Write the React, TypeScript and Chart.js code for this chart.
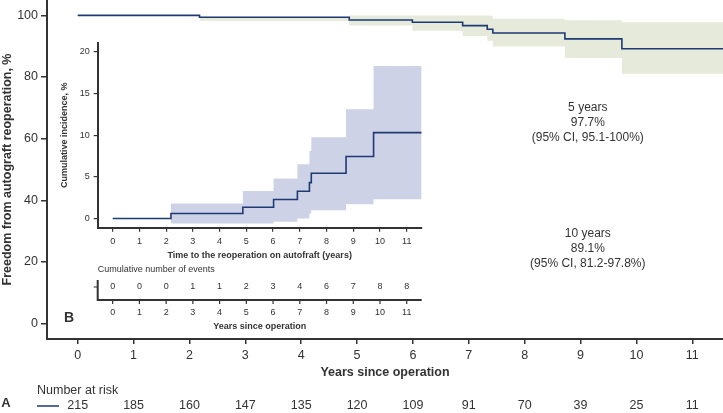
import React, { useEffect, useRef } from "react";
import { Chart, registerables } from "chart.js";

Chart.register(...registerables);

const FONT = "'Liberation Sans', Arial, Helvetica, sans-serif";
const INK = "#333333";
const LINE = "#1e3a74";

// ---- Panel A: freedom from autograft reoperation ----
const xTicks = [0, 1, 2, 3, 4, 5, 6, 7, 8, 9, 10, 11];
const mainYTicks = [0, 20, 40, 60, 80, 100];
const survTimes = [0, 2.18, 4.86, 5.99, 6.89, 7.33, 7.43, 8.72, 9.74, 11.55];
const survValues = [100, 99.4, 98.5, 97.8, 96.7, 95.5, 94.3, 92.4, 89.2, 89.2];
const survCiTimes = [2.18, 4.86, 5.99, 6.89, 7.33, 7.43, 8.72, 9.74, 11.55];
const survCiUpper = [99.6, 100, 100, 100, 99.9, 98.9, 98.4, 97.8, 97.8];
const survCiLower = [98.3, 96.7, 95.0, 93.3, 91.8, 89.9, 86.2, 81.1, 81.1];
const atRisk = [215, 185, 160, 147, 135, 120, 109, 91, 70, 39, 25, 11];
const note5 = ["5 years", "97.7%", "(95% CI, 95.1-100%)"];
const note10 = ["10 years", "89.1%", "(95% CI, 81.2-97.8%)"];

// ---- Panel B (inset): cumulative incidence ----
const insetYTicks = [0, 5, 10, 15, 20];
const incTimes = [0, 2.18, 4.87, 6.02, 6.91, 7.36, 7.43, 8.73, 9.76, 11.56];
const incValues = [0, 0.6, 1.35, 2.28, 3.28, 4.31, 5.43, 7.43, 10.3, 10.3];
const incCiTimes = [2.18, 4.87, 6.02, 6.91, 7.36, 7.43, 8.73, 9.76, 11.56];
const incCiUpper = [1.8, 3.3, 4.8, 6.5, 8.1, 9.75, 13.1, 18.3, 18.3];
const incCiLower = [-0.6, -0.6, -0.4, 0, 0.6, 1.0, 1.7, 2.3, 2.3];
const eventsCount = [0, 0, 0, 1, 1, 2, 3, 4, 6, 7, 8, 8];

const pts = (xs: number[], ys: number[]) => xs.map((x, i) => ({ x, y: ys[i] }));

const fixTicks = (vals: number[]) => (s: any) => {
  s.ticks = vals.map((v) => ({ value: v }));
};

const mainOverlay = {
  id: "mainOverlay",
  afterDraw(chart: any) {
    const ctx = chart.ctx;
    const xs = chart.scales.x;
    const ys = chart.scales.y;
    ctx.save();
    ctx.fillStyle = INK;
    ctx.textAlign = "center";
    ctx.textBaseline = "middle";
    ctx.font = `12px ${FONT}`;
    const nx = xs.getPixelForValue(9.13);
    const y5 = ys.getPixelForValue(65.2);
    note5.forEach((t, i) => ctx.fillText(t, nx, y5 + (i - 1) * 15));
    const y10 = ys.getPixelForValue(24.2);
    note10.forEach((t, i) => ctx.fillText(t, nx, y10 + (i - 1) * 15));

    // number at risk
    ctx.font = `12.5px ${FONT}`;
    ctx.textAlign = "left";
    ctx.fillText("Number at risk", 37, 391);
    ctx.textAlign = "center";
    atRisk.forEach((n, i) => ctx.fillText(String(n), xs.getPixelForValue(xTicks[i]), 405.5));
    ctx.strokeStyle = LINE;
    ctx.lineWidth = 1.5;
    ctx.beginPath();
    ctx.moveTo(37, 406);
    ctx.lineTo(59, 406);
    ctx.stroke();
    ctx.font = `bold 13px ${FONT}`;
    ctx.fillText("A", 6, 403);
    ctx.restore();
  },
};

const insetOverlay = {
  id: "insetOverlay",
  afterDraw(chart: any) {
    const ctx = chart.ctx;
    const xs = chart.scales.x;
    const left = chart.chartArea.left;
    const right = chart.chartArea.right;
    ctx.save();
    ctx.fillStyle = INK;
    ctx.strokeStyle = INK;
    ctx.textBaseline = "middle";
    ctx.font = `9px ${FONT}`;
    ctx.textAlign = "left";
    ctx.fillText("Cumulative number of events", left, 270);
    // table frame
    ctx.lineWidth = 2;
    ctx.beginPath();
    ctx.moveTo(left, 280);
    ctx.lineTo(left, 300);
    ctx.lineTo(right, 300);
    ctx.stroke();
    ctx.lineWidth = 1.2;
    ctx.beginPath();
    ctx.moveTo(left - 4, 287);
    ctx.lineTo(left, 287);
    xTicks.forEach((v) => {
      const px = xs.getPixelForValue(v);
      ctx.moveTo(px, 300);
      ctx.lineTo(px, 304);
    });
    ctx.stroke();
    ctx.textAlign = "center";
    eventsCount.forEach((n, i) => ctx.fillText(String(n), xs.getPixelForValue(xTicks[i]), 287));
    xTicks.forEach((v) => ctx.fillText(String(v), xs.getPixelForValue(v), 313));
    ctx.font = `bold 9px ${FONT}`;
    ctx.fillText("Years since operation", (left + right) / 2, 327);
    ctx.font = `bold 14px ${FONT}`;
    ctx.fillText("B", 69, 318);
    ctx.restore();
  },
};

export default function App() {
  const mainRef = useRef<HTMLCanvasElement>(null);
  const insetRef = useRef<HTMLCanvasElement>(null);

  useEffect(() => {
    const main = new Chart(mainRef.current!, {
      type: "line",
      data: {
        datasets: [
          {
            data: pts(survTimes, survValues),
            borderColor: LINE,
            borderWidth: 1.6,
            pointRadius: 0,
            stepped: true,
            fill: false,
          },
          {
            data: pts(survCiTimes, survCiUpper),
            borderWidth: 0,
            borderColor: "rgba(0,0,0,0)",
            backgroundColor: "#e5eada",
            pointRadius: 0,
            stepped: true,
            fill: "+1",
          },
          {
            data: pts(survCiTimes, survCiLower),
            borderWidth: 0,
            borderColor: "rgba(0,0,0,0)",
            pointRadius: 0,
            stepped: true,
            fill: false,
          },
        ],
      },
      options: {
        responsive: false,
        animation: false,
        events: [],
        layout: { padding: 0 },
        plugins: { legend: { display: false }, tooltip: { enabled: false } },
        scales: {
          x: {
            type: "linear",
            min: -0.55,
            max: 11.55,
            afterBuildTicks: fixTicks(xTicks),
            afterFit: (s: any) => {
              s.height = 74;
              s.paddingLeft = 0;
              s.paddingRight = 0;
            },
            grid: { display: true, drawOnChartArea: false, drawTicks: true, tickLength: 5, color: INK, lineWidth: 1.5 },
            border: { display: true, color: INK, width: 2 },
            ticks: { color: INK, padding: 4, maxRotation: 0, font: { family: FONT, size: 12.5 } },
            title: {
              display: true,
              text: "Years since operation",
              color: INK,
              font: { family: FONT, size: 12.5, weight: "bold" },
              padding: { top: 0, bottom: 33 },
            },
          },
          y: {
            type: "linear",
            min: -5,
            max: 105,
            afterBuildTicks: fixTicks(mainYTicks),
            afterFit: (s: any) => {
              s.width = 47;
              s.paddingTop = 0;
              s.paddingBottom = 0;
            },
            grid: { display: true, drawOnChartArea: false, drawTicks: true, tickLength: 6, color: INK, lineWidth: 1.5 },
            border: { display: true, color: INK, width: 2 },
            ticks: { color: INK, padding: 3, font: { family: FONT, size: 12.5 } },
            title: {
              display: true,
              text: "Freedom from autograft reoperation, %",
              color: INK,
              font: { family: FONT, size: 12.5, weight: "bold" },
              padding: 0,
            },
          },
        },
      },
      plugins: [mainOverlay],
    } as any);

    const inset = new Chart(insetRef.current!, {
      type: "line",
      data: {
        datasets: [
          {
            data: pts(incTimes, incValues),
            borderColor: LINE,
            borderWidth: 1.6,
            pointRadius: 0,
            stepped: true,
            fill: false,
          },
          {
            data: pts(incCiTimes, incCiUpper),
            borderWidth: 0,
            borderColor: "rgba(0,0,0,0)",
            backgroundColor: "#ced2e6",
            pointRadius: 0,
            stepped: true,
            fill: "+1",
          },
          {
            data: pts(incCiTimes, incCiLower),
            borderWidth: 0,
            borderColor: "rgba(0,0,0,0)",
            pointRadius: 0,
            stepped: true,
            fill: false,
          },
        ],
      },
      options: {
        responsive: false,
        animation: false,
        events: [],
        layout: { padding: { left: 57.7, top: 43, right: 301.3, bottom: 149.3 } },
        plugins: { legend: { display: false }, tooltip: { enabled: false } },
        scales: {
          x: {
            type: "linear",
            min: -0.56,
            max: 11.56,
            afterBuildTicks: fixTicks(xTicks),
            afterFit: (s: any) => {
              s.height = 36;
              s.paddingLeft = 0;
              s.paddingRight = 0;
            },
            grid: { display: true, drawOnChartArea: false, drawTicks: true, tickLength: 4, color: INK, lineWidth: 1.2 },
            border: { display: true, color: INK, width: 2 },
            ticks: { color: INK, padding: 4, maxRotation: 0, font: { family: FONT, size: 9 } },
            title: {
              display: true,
              text: "Time to the reoperation on autofraft (years)",
              color: INK,
              font: { family: FONT, size: 9, weight: "bold" },
              padding: { top: 0, bottom: 2.6 },
            },
          },
          y: {
            type: "linear",
            min: -1.1,
            max: 21.05,
            afterBuildTicks: fixTicks(insetYTicks),
            afterFit: (s: any) => {
              s.width = 40;
              s.paddingTop = 0;
              s.paddingBottom = 0;
            },
            grid: { display: true, drawOnChartArea: false, drawTicks: true, tickLength: 4, color: INK, lineWidth: 1.2 },
            border: { display: true, color: INK, width: 2 },
            ticks: { color: INK, padding: 4, font: { family: FONT, size: 9 } },
            title: {
              display: true,
              text: "Cumulative incidence, %",
              color: INK,
              font: { family: FONT, size: 9, weight: "bold" },
              padding: { top: 1, bottom: 0 },
            },
          },
        },
      },
      plugins: [insetOverlay],
    } as any);

    return () => {
      main.destroy();
      inset.destroy();
    };
  }, []);

  const canvasStyle: React.CSSProperties = { position: "absolute", left: 0, top: 0 };
  return (
    <div style={{ position: "absolute", left: 0, top: 0, width: 723, height: 413, background: "#fff" }}>
      <canvas ref={mainRef} width={723} height={413} style={canvasStyle} />
      <canvas ref={insetRef} width={723} height={413} style={canvasStyle} />
    </div>
  );
}
